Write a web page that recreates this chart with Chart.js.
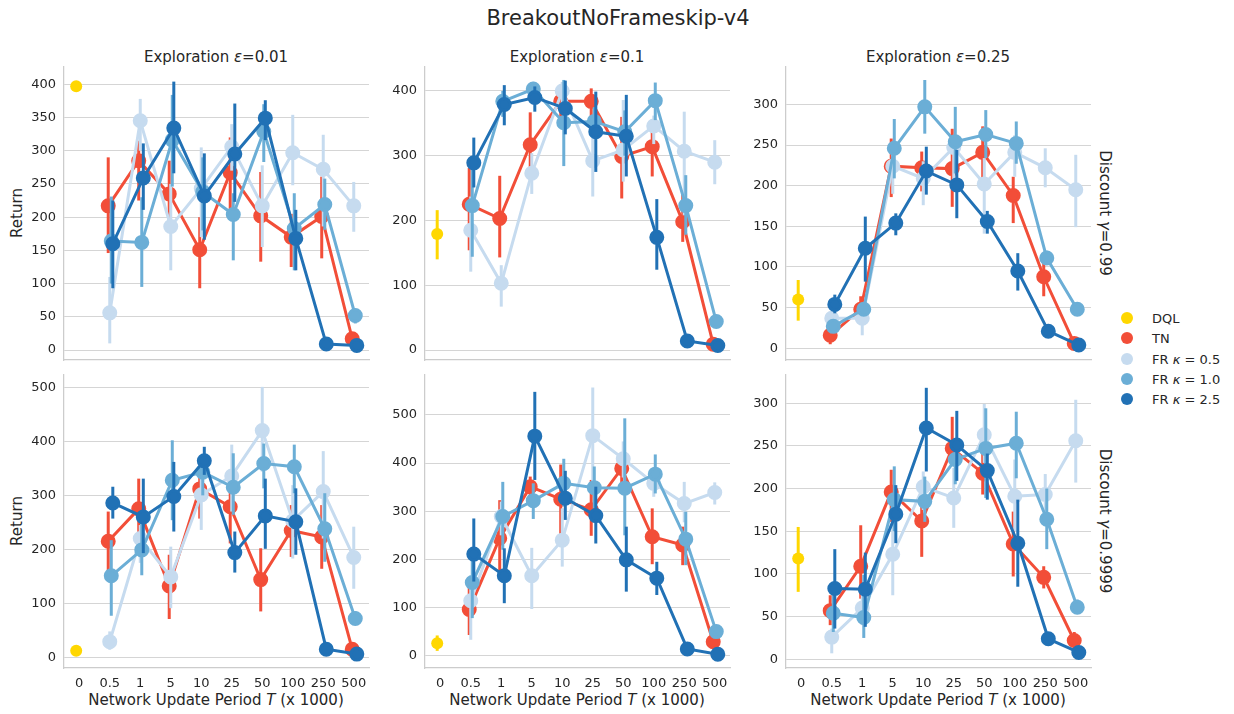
<!DOCTYPE html>
<html>
<head>
<meta charset="utf-8">
<script src="https://cdn.jsdelivr.net/npm/chart.js@4.4.1/dist/chart.umd.min.js"></script>
<style>
  body { margin: 0; background: #fff; font-family: "DejaVu Sans", sans-serif; color: #262626; }
  #fig { position: relative; width: 1234px; height: 714px; overflow: hidden; background: #fff; }
  #fig canvas { position: absolute; }
  .lbl { position: absolute; transform: translate(-50%, -50%); white-space: nowrap; font-size: 15px; }
  .rotl { transform: translate(-50%, -50%) rotate(-90deg); }
  .rotr { transform: translate(-50%, -50%) rotate(90deg); }
  #legend { position: absolute; left: 1118px; top: 309px; font-size: 13px; }
  #legend div { height: 20.3px; line-height: 20px; white-space: nowrap; }
  #legend span.dot { display: inline-block; width: 12px; height: 12px; border-radius: 50%; margin: 0 19px 0 3px; vertical-align: -1px; }
</style>
</head>
<body>
<div id="fig">
  <div class="lbl" style="left:618px; top:18px; font-size:21px;">BreakoutNoFrameskip-v4</div>
  <div class="lbl" style="left:216px; top:57px;">Exploration <i>ε</i>=0.01</div>
  <div class="lbl" style="left:577px; top:57px;">Exploration <i>ε</i>=0.1</div>
  <div class="lbl" style="left:938px; top:57px;">Exploration <i>ε</i>=0.25</div>
  <div class="lbl rotl" style="left:17px; top:213px;">Return</div>
  <div class="lbl rotl" style="left:17px; top:521px;">Return</div>
  <div class="lbl rotr" style="left:1105px; top:213px;">Discount <i>γ</i>=0.99</div>
  <div class="lbl rotr" style="left:1105px; top:521px;">Discount <i>γ</i>=0.9999</div>
  <div class="lbl" style="left:216px; top:700px;">Network Update Period <i>T</i> (x 1000)</div>
  <div class="lbl" style="left:577px; top:700px;">Network Update Period <i>T</i> (x 1000)</div>
  <div class="lbl" style="left:938px; top:700px;">Network Update Period <i>T</i> (x 1000)</div>
  <div id="legend"></div>
</div>
<script>
// x categories (network update period, x1000)
const categories = ['0', '0.5', '1', '5', '10', '25', '50', '100', '250', '500'];
const seriesLabels = ['DQL', 'TN', 'FR <i>κ</i> = 0.5', 'FR <i>κ</i> = 1.0', 'FR <i>κ</i> = 2.5'];
const seriesColors = ['#ffd700', '#f24e38', '#c6dbef', '#6baed6', '#2171b5'];

// each entry: [mean, ci low, ci high]; DQL only at T=0, others at T=0.5..500
// gamma = 0.99
const dql_e01_g99 = [397, 394, 400];
const tn_e01_g99 = [[217,146,290],[285,225,315],[235,190,285],[151,93,200],[267,210,320],[202,133,268],[170,125,205],[201,138,261],[17,8,25]];
const fr05_e01_g99 = [[56,10,110],[345,300,378],[186,120,250],[243,170,305],[306,270,340],[217,155,278],[297,248,354],[272,186,324],[217,178,253]];
const fr10_e01_g99 = [[164,100,231],[162,95,230],[316,246,384],[238,180,290],[204,135,236],[329,283,370],[183,120,236],[219,181,258],[52,40,62]];
const fr25_e01_g99 = [[160,93,225],[259,211,311],[334,266,404],[232,166,296],[295,223,371],[349,316,376],[168,120,211],[9,5,12],[7,4,10]];

const dql_e1_g99 = [179, 140, 216];
const tn_e1_g99 = [[225,154,281],[203,143,269],[317,270,367],[384,355,405],[384,360,404],[299,234,360],[314,268,355],[198,167,242],[9,3,15]];
const fr05_e1_g99 = [[185,121,237],[103,67,131],[273,241,304],[400,380,414],[292,237,350],[309,260,386],[346,318,362],[307,208,368],[290,256,324]];
const fr10_e1_g99 = [[223,144,290],[384,360,400],[403,392,414],[351,284,417],[353,330,375],[337,300,370],[385,355,413],[223,178,270],[44,38,50]];
const fr25_e1_g99 = [[289,251,328],[379,347,409],[390,368,407],[373,333,416],[337,275,399],[330,268,394],[174,124,233],[14,10,18],[7,4,10]];

const dql_e25_g99 = [60, 34, 84];
const tn_e25_g99 = [[16,5,28],[48,35,64],[224,186,258],[222,193,242],[221,174,270],[241,209,273],[188,154,211],[88,64,107],[6,2,10]];
const fr05_e25_g99 = [[37,28,45],[37,16,52],[224,190,250],[209,176,230],[247,207,260],[202,141,234],[241,211,262],[222,198,246],[195,149,238]];
const fr10_e25_g99 = [[27,20,35],[48,40,56],[246,209,282],[297,264,330],[254,215,297],[263,234,293],[252,227,279],[111,103,120],[48,42,54]];
const fr25_e25_g99 = [[54,43,66],[123,82,162],[154,139,166],[218,189,248],[201,160,244],[156,141,169],[95,71,117],[21,17,25],[4,2,6]];

// gamma = 0.9999
const dql_e01_g9999 = [12, 10, 14];
const tn_e01_g9999 = [[215,159,270],[275,226,331],[132,71,190],[312,257,338],[279,211,310],[144,85,202],[235,186,282],[223,164,282],[15,5,25]];
const fr05_e01_g9999 = [[29,14,48],[220,175,245],[149,91,205],[301,236,331],[336,270,394],[420,344,501],[253,183,319],[307,220,382],[185,127,242]];
const fr10_e01_g9999 = [[151,77,217],[199,152,270],[328,254,402],[343,300,370],[315,264,378],[359,313,396],[353,304,394],[238,177,304],[72,60,85]];
const fr25_e01_g9999 = [[286,257,316],[260,193,331],[298,233,362],[364,338,390],[194,157,233],[262,201,331],[251,190,313],[15,10,20],[6,3,9]];

const dql_e1_g9999 = [26, 10, 42];
const tn_e1_g9999 = [[96,43,147],[244,175,323],[351,330,372],[325,249,397],[303,249,365],[389,349,410],[247,190,306],[230,188,268],[29,22,36]];
const fr05_e1_g9999 = [[114,33,161],[289,250,320],[166,97,224],[240,185,306],[457,361,557],[409,370,445],[358,330,382],[316,277,361],[339,314,360]];
const fr10_e1_g9999 = [[152,78,226],[289,220,361],[322,284,358],[358,310,409],[349,306,393],[348,250,493],[377,337,418],[242,188,299],[50,42,58]];
const fr25_e1_g9999 = [[211,154,285],[166,109,223],[456,365,548],[327,282,384],[291,233,351],[199,133,268],[161,126,195],[14,10,18],[3,1,5]];

const dql_e25_g9999 = [118, 79, 155];
const tn_e25_g9999 = [[57,40,75],[109,71,157],[196,161,222],[162,120,189],[247,232,284],[218,193,241],[135,97,173],[96,83,109],[22,12,32]];
const fr05_e25_g9999 = [[26,7,36],[60,40,80],[123,75,161],[202,175,220],[189,154,224],[263,230,299],[191,150,234],[193,165,217],[256,207,304]];
const fr10_e25_g9999 = [[54,32,75],[49,25,99],[187,150,226],[185,161,214],[234,205,259],[247,189,294],[253,212,290],[164,129,200],[61,53,70]];
const fr25_e25_g9999 = [[83,36,129],[82,38,125],[170,136,204],[271,220,318],[251,209,291],[221,187,241],[136,85,187],[24,20,28],[8,5,11]];

// y axis limits and tick steps per panel
const yLimits = [[-15, 426], [-15.4, 437], [-14.4, 346], [-19.8, 523], [-25.6, 583], [-10.2, 333]];
const yStep = [50, 100, 50, 100, 100, 50];

const panels = [
  [dql_e01_g99, [tn_e01_g99, fr05_e01_g99, fr10_e01_g99, fr25_e01_g99]],
  [dql_e1_g99, [tn_e1_g99, fr05_e1_g99, fr10_e1_g99, fr25_e1_g99]],
  [dql_e25_g99, [tn_e25_g99, fr05_e25_g99, fr10_e25_g99, fr25_e25_g99]],
  [dql_e01_g9999, [tn_e01_g9999, fr05_e01_g9999, fr10_e01_g9999, fr25_e01_g9999]],
  [dql_e1_g9999, [tn_e1_g9999, fr05_e1_g9999, fr10_e1_g9999, fr25_e1_g9999]],
  [dql_e25_g9999, [tn_e25_g9999, fr05_e25_g9999, fr10_e25_g9999, fr25_e25_g9999]]
];

// layout of plot areas
const colLeft = [64, 425, 786];
const rowTop = [67, 375];
const plotW = 305, plotH = 293;
const YW = 50, PT = 18, PR = 10, XH = 30;
const dodge = 0.2;

const errorBars = {
  id: 'errorBars',
  beforeDatasetDraw(chart, args) {
    const ds = chart.data.datasets[args.index];
    const yScale = chart.scales.y;
    const ctx = chart.ctx;
    ctx.save();
    ctx.strokeStyle = ds.borderColor;
    ctx.lineWidth = 3;
    ds.data.forEach((pt, i) => {
      const x = args.meta.data[i].x;
      ctx.beginPath();
      ctx.moveTo(x, yScale.getPixelForValue(pt.lo));
      ctx.lineTo(x, yScale.getPixelForValue(pt.hi));
      ctx.stroke();
    });
    ctx.restore();
  }
};

function offsetFor(s) {
  return -dodge / 2 + s * dodge / 4;
}

function makeDatasets(dql, seriesList) {
  const sets = [{
    label: 'DQL',
    data: [{ x: offsetFor(0), y: dql[0], lo: dql[1], hi: dql[2] }],
    borderColor: seriesColors[0],
    backgroundColor: seriesColors[0],
    showLine: false,
    order: 4
  }];
  seriesList.forEach((vals, k) => {
    const s = k + 1;
    sets.push({
      label: seriesLabels[s],
      data: vals.map((v, i) => ({ x: i + 1 + offsetFor(s), y: v[0], lo: v[1], hi: v[2] })),
      borderColor: seriesColors[s],
      backgroundColor: seriesColors[s],
      borderWidth: 3,
      order: 4 - s
    });
  });
  return sets;
}

const fig = document.getElementById('fig');
panels.forEach((p, idx) => {
  const col = idx % 3, row = Math.floor(idx / 3);
  const canvas = document.createElement('canvas');
  const w = YW + plotW + PR, h = PT + plotH + XH;
  canvas.width = w;
  canvas.height = h;
  canvas.style.left = (colLeft[col] - YW) + 'px';
  canvas.style.top = (rowTop[row] - PT) + 'px';
  fig.appendChild(canvas);

  new Chart(canvas.getContext('2d'), {
    type: 'line',
    data: { datasets: makeDatasets(p[0], p[1]) },
    options: {
      responsive: false,
      animation: false,
      devicePixelRatio: 1,
      layout: { padding: { top: PT, right: PR, left: 0, bottom: 0 } },
      elements: {
        line: { tension: 0, borderWidth: 3 },
        point: { radius: 6, borderWidth: 0, hoverRadius: 6 }
      },
      plugins: { legend: { display: false }, tooltip: { enabled: false } },
      scales: {
        x: {
          type: 'linear',
          min: -0.5,
          max: 9.5,
          afterBuildTicks: (scale) => { scale.ticks = categories.map((c, i) => ({ value: i })); },
          afterFit: (scale) => { scale.height = XH; },
          grid: { display: false, drawTicks: false },
          border: { display: true, color: '#cccccc', width: 1.25 },
          ticks: {
            display: row === 1,
            padding: 8,
            color: '#262626',
            font: { family: 'DejaVu Sans', size: 13 },
            maxRotation: 0,
            autoSkip: false,
            callback: (v) => categories[v]
          }
        },
        y: {
          min: yLimits[idx][0],
          max: yLimits[idx][1],
          afterBuildTicks: (scale) => {
            const t = [];
            for (let v = 0; v <= yLimits[idx][1]; v += yStep[idx]) t.push({ value: v });
            scale.ticks = t;
          },
          afterFit: (scale) => { scale.width = YW; },
          grid: { color: '#d5d5d5', lineWidth: 1, drawTicks: false },
          border: { display: true, color: '#cccccc', width: 1.25 },
          ticks: {
            padding: 8,
            color: '#262626',
            font: { family: 'DejaVu Sans', size: 13 }
          }
        }
      }
    },
    plugins: [errorBars]
  });
});

// legend
const legend = document.getElementById('legend');
seriesLabels.forEach((lab, s) => {
  const row = document.createElement('div');
  row.innerHTML = '<span class="dot" style="background:' + seriesColors[s] + '"></span>' + lab;
  legend.appendChild(row);
});
</script>
</body>
</html>
